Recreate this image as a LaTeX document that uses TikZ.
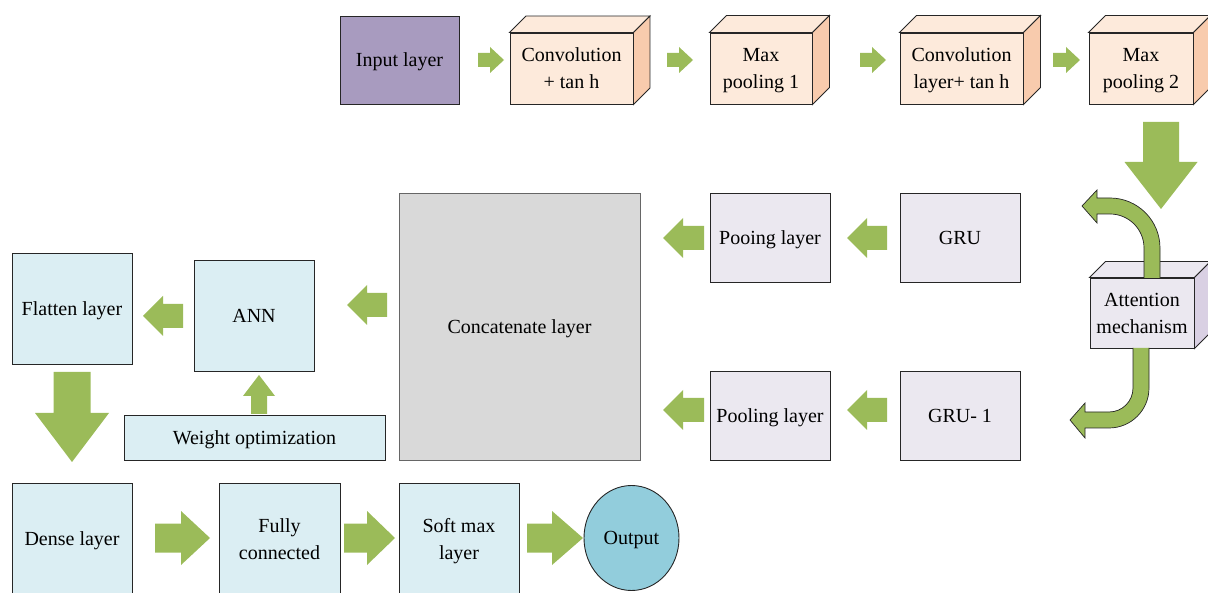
\documentclass[tikz,border=0pt]{standalone}
\usepackage{fontspec}
\setmainfont{Liberation Serif}
\usetikzlibrary{shapes.geometric}
\definecolor{agreen}{HTML}{9BBB59}
\definecolor{purp}{HTML}{A89BBF}
\definecolor{peach}{HTML}{FDEADB}
\definecolor{peachside}{HTML}{F8CBAD}
\definecolor{lav}{HTML}{EBE8F0}
\definecolor{lavside}{HTML}{D9D0E3}
\definecolor{lblue}{HTML}{DBEEF3}
\definecolor{cgray}{HTML}{D9D9D9}
\definecolor{outc}{HTML}{92CDDC}
\newcommand\cubefaces[4]{% node, depth, top colour, side colour
  \path (#1.north west) ++(#2,-#2) coordinate (#1-bnw)
        (#1.north east) ++(#2,-#2) coordinate (#1-bne)
        (#1.south east) ++(#2,-#2) coordinate (#1-bse);
  \draw[edge, fill=#3] (#1.north west) -- (#1-bnw) -- (#1-bne) -- (#1.north east) -- cycle;
  \draw[edge, fill=#4] (#1.north east) -- (#1-bne) -- (#1-bse) -- (#1.south east) -- cycle;}
% horizontal block arrow: x1, x2, y, shaft half, head half, signed head length
\newcommand\harr[6]{\fill[agreen] ({#1},{#3-#4}) -- ({#2-(#6)},{#3-#4}) -- ({#2-(#6)},{#3-#5}) -- ({#2},{#3})
  -- ({#2-(#6)},{#3+#5}) -- ({#2-(#6)},{#3+#4}) -- ({#1},{#3+#4}) -- cycle;}
% vertical block arrow: y1, y2, x, shaft half, head half, signed head length
\newcommand\varr[6]{\fill[agreen] ({#3-#4},{#1}) -- ({#3-#4},{#2-(#6)}) -- ({#3-#5},{#2-(#6)}) -- ({#3},{#2})
  -- ({#3+#5},{#2-(#6)}) -- ({#3+#4},{#2-(#6)}) -- ({#3+#4},{#1}) -- cycle;}
\begin{document}
\begin{tikzpicture}[x=1pt,y=-1pt,
  edge/.style={draw=black!85, line width=0.9pt},
  box/.style={edge, inner sep=0pt, align=center, text depth=0pt, font=\fontsize{20}{27}\selectfont},
  cubebox/.style={box, fill=peach},
  lavbox/.style={box, fill=lav},
  bluebox/.style={box, fill=lblue}]
\useasboundingbox (0,0) rectangle (1208,593);

% top row
\node[box, fill=purp, minimum width=119pt, minimum height=88pt] (inp) at (399.5,60) {Input layer};
\node[cubebox, minimum width=123pt, minimum height=71pt] (conv1) at (571.5,68.5) {Convolution\\+ tan h};
\cubefaces{conv1}{16.5}{peach}{peachside}
\node[cubebox, minimum width=102pt, minimum height=71pt] (max1) at (761,68.5) {Max\\pooling 1};
\cubefaces{max1}{17}{peach}{peachside}
\node[cubebox, minimum width=123pt, minimum height=71pt] (conv2) at (961.5,68.5) {Convolution\\layer+ tan h};
\cubefaces{conv2}{17}{peach}{peachside}
\node[cubebox, minimum width=104pt, minimum height=71pt] (max2) at (1141,68.5) {Max\\pooling 2};
\cubefaces{max2}{17}{peach}{peachside}

\harr{478}{504}{60}{7}{13}{14}
\harr{667}{693}{60}{7}{13}{14}
\harr{860}{886}{60}{7}{13}{14}
\harr{1053}{1080}{60}{7}{13}{14}
\varr{122}{209}{1161}{18}{36.5}{47}

% attention
\node[lavbox, minimum width=104pt, minimum height=70pt] (att) at (1142,313) {Attention\\mechanism};
\cubefaces{att}{16}{lav}{lavside}
\filldraw[edge, fill=agreen, line width=0.7pt] (1144,278) -- (1144,248)
  .. controls (1144,229.2) and (1128.8,214) .. (1110,214) -- (1097,214) -- (1097,223)
  -- (1082,206) -- (1097,190) -- (1097,198) -- (1110,198)
  .. controls (1137.6,198) and (1160,220.4) .. (1160,248) -- (1160,278);
\filldraw[edge, fill=agreen, line width=0.7pt] (1133,348) -- (1133,388)
  .. controls (1133,401.3) and (1122.3,412) .. (1109,412) -- (1085,412) -- (1085,403)
  -- (1070,420) -- (1085,438) -- (1085,428) -- (1109,428)
  .. controls (1131.1,428) and (1149,410.1) .. (1149,388) -- (1149,348);

% GRU branch
\node[lavbox, minimum width=120pt, minimum height=89pt] (gru) at (960,237.5) {GRU};
\node[lavbox, minimum width=120pt, minimum height=89pt] (pool1) at (770,237.5) {Pooing layer};
\node[lavbox, minimum width=120pt, minimum height=89pt] (gru1) at (960,415.5) {GRU- 1};
\node[lavbox, minimum width=120pt, minimum height=89pt] (pool2) at (770,415.5) {Pooling layer};
\harr{887}{847}{238}{12}{20}{-20}
\harr{704}{663}{238}{12}{20}{-20}
\harr{887}{847}{410}{12}{20}{-20}
\harr{704}{663}{410}{12}{20}{-20}

% concatenate
\node[box, draw=black!60, fill=cgray, minimum width=241pt, minimum height=267pt] (cat) at (519.5,326.5) {Concatenate layer};
\harr{387}{347}{305}{12}{20}{-20}

% ANN, flatten, weight
\node[bluebox, minimum width=120pt, minimum height=111pt] (ann) at (254,315.5) {ANN};
\node[bluebox, minimum width=120pt, minimum height=111pt] (flat) at (72,308.5) {Flatten layer};
\node[bluebox, minimum width=261pt, minimum height=45pt] (wopt) at (254.5,437.5) {Weight optimization};
\harr{183}{143}{316}{12}{20}{-20}
\varr{414}{375}{259}{8}{16}{-21}
\varr{372}{462}{72}{18.5}{37}{49}

% bottom row
\node[bluebox, minimum width=120pt, minimum height=112pt] (dense) at (72,539) {Dense layer};
\node[bluebox, minimum width=121pt, minimum height=112pt] (fc) at (279.5,539) {Fully\\connected};
\node[bluebox, minimum width=120pt, minimum height=112pt] (soft) at (459,539) {Soft max\\layer};
\node[edge, ellipse, fill=outc, minimum width=95pt, minimum height=105pt, inner sep=0pt, text depth=0pt, font=\fontsize{20}{27}\selectfont] (out) at (631.5,538) {Output};
\harr{155}{210}{538}{14.5}{27}{29}
\harr{344}{395}{538}{14.5}{27}{28}
\harr{527}{583}{538}{14.5}{27}{31}
\end{tikzpicture}
\end{document}
